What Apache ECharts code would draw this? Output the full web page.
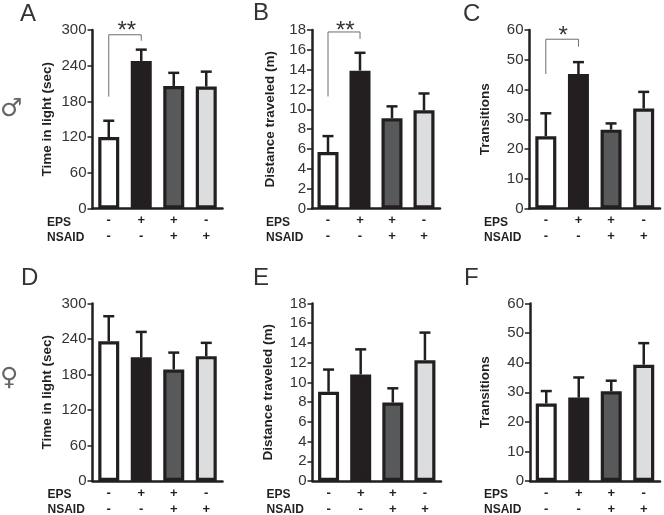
<!DOCTYPE html>
<html><head><meta charset="utf-8">
<style>html,body{margin:0;padding:0;background:#fff}#c{width:664px;height:515px}</style>
<script src="https://cdn.jsdelivr.net/npm/echarts@6/dist/echarts.min.js"></script>
</head><body><div id="c"></div>
<script>
const categories = ['-\n-', '+\n-', '+\n+', '-\n+'];
const barColors = ['#ffffff', '#231f20', '#58595b', '#dcddde'];
const timeMale = [120, 248, 206, 205];
const timeMaleTop = [147.5, 267, 228, 230];
const distMale = [5.7, 13.9, 9.1, 9.9];
const distMaleTop = [7.3, 15.7, 10.3, 11.6];
const transMale = [24.3, 45.2, 26.5, 33.6];
const transMaleTop = [32, 49.2, 28.6, 39.2];
const timeFemale = [236, 209, 188.5, 211];
const timeFemaleTop = [278.5, 252, 217, 233.5];
const distFemale = [9.05, 10.8, 7.95, 12.25];
const distFemaleTop = [11.3, 13.35, 9.4, 15.05];
const transFemale = [26.2, 28.2, 30.3, 39.3];
const transFemaleTop = [30.4, 35, 33.9, 46.6];
const INK = '#231f20', FONT = '"Liberation Sans", Arial, sans-serif';

const panels = [
 {letter:'A',name:'Time in light (sec)',max:300,step:60,v:timeMale,t:timeMaleTop,left:92.5,right:222.5,top:30,bottom:208.5,gap:38,lx:20,ly:14,rx:47,br:[188,292,282],star:'**',sx:25,sy:19},
 {letter:'B',name:'Distance traveled (m)',max:18,step:2,v:distMale,t:distMaleTop,left:312,right:440,top:30,bottom:208.5,gap:35,lx:253,ly:13,rx:266,br:[11.3,17.8,17.1],star:'**',sx:24,sy:19},
 {letter:'C',name:'Transitions',max:60,step:10,v:transMale,t:transMaleTop,left:529.5,right:660,top:30,bottom:208.5,gap:37,lx:463,ly:14,rx:484,br:[45.2,56.9,54.4],star:'*',sx:29,sy:24},
 {letter:'D',name:'Time in light (sec)',max:300,step:60,v:timeFemale,t:timeFemaleTop,left:92.5,right:222.5,top:303.5,bottom:481,gap:38,lx:21,ly:278,rx:47.5},
 {letter:'E',name:'Distance traveled (m)',max:18,step:2,v:distFemale,t:distFemaleTop,left:312.5,right:441,top:303.5,bottom:481,gap:37,lx:253,ly:278,rx:266.5},
 {letter:'F',name:'Transitions',max:60,step:10,v:transFemale,t:transFemaleTop,left:530,right:660,top:303.5,bottom:481,gap:38,lx:464,ly:278,rx:484}
];

const grid=[],xAxis=[],yAxis=[],series=[],graphic=[];
panels.forEach((p,i)=>{
  grid.push({left:p.left,top:p.top,width:p.right-p.left,height:p.bottom-p.top,outerBoundsMode:'none'});
  xAxis.push({type:'category',gridIndex:i,data:categories,
    axisLine:{lineStyle:{color:INK,width:2.5}},axisTick:{show:false},
    axisLabel:{interval:0,color:INK,fontFamily:FONT,fontWeight:'bold',fontSize:13,lineHeight:16,margin:4}});
  yAxis.push({type:'value',gridIndex:i,min:0,max:p.max,interval:p.step,splitLine:{show:false},
    name:p.name,nameLocation:'middle',nameGap:p.gap,
    nameTextStyle:{color:INK,fontFamily:FONT,fontWeight:'bold',fontSize:13.5},
    axisLine:{show:true,lineStyle:{color:INK,width:2.5}},
    axisTick:{show:true,length:5,lineStyle:{color:INK,width:1.5}},
    axisLabel:{color:'#333',fontFamily:FONT,fontSize:15,margin:6}});
  series.push({type:'bar',xAxisIndex:i,yAxisIndex:i,barWidth:21,silent:true,animation:false,
    data:p.v.map((y,k)=>({value:y,itemStyle:{color:barColors[k],borderColor:INK,borderWidth:3.2}}))});
  series.push({type:'custom',xAxisIndex:i,yAxisIndex:i,silent:true,animation:false,z:1,
    data:p.v.map((y,k)=>[k,y,p.t[k]]),
    renderItem(params,api){
      const a=api.coord([api.value(0),api.value(1)]),b=api.coord([api.value(0),api.value(2)]);
      const st={stroke:INK,lineWidth:2.5,fill:null};
      return {type:'group',children:[
        {type:'line',shape:{x1:a[0],y1:a[1],x2:b[0],y2:b[1]},style:st},
        {type:'line',shape:{x1:b[0]-5.5,y1:b[1],x2:b[0]+5.5,y2:b[1]},style:st}]};
    }});
  if(p.br){
    series.push({type:'custom',xAxisIndex:i,yAxisIndex:i,silent:true,animation:false,clip:false,
      data:[[0,p.br[0],p.br[1],p.br[2]]],
      renderItem(params,api){
        const a=api.coord([0,api.value(1)]),t=api.coord([0,api.value(2)]),r=api.coord([1,api.value(3)]),tr=api.coord([1,api.value(2)]);
        return {type:'polyline',shape:{points:[a,t,tr,r]},style:{stroke:'#6d6e71',lineWidth:1,fill:null}};
      }});
    graphic.push({type:'text',left:p.left+p.sx,top:p.sy,style:{text:p.star,fill:'#333',font:'24px '+FONT}});
  }
  graphic.push({type:'text',left:p.lx,top:p.ly-12,style:{text:p.letter,fill:'#333',font:'24px '+FONT}});
  const ey=p.bottom+8;
  graphic.push({type:'text',left:p.rx,top:ey,style:{text:'EPS',fill:INK,font:'bold 12px '+FONT}});
  graphic.push({type:'text',left:p.rx,top:ey+15,style:{text:'NSAID',fill:INK,font:'bold 12px '+FONT}});
});
graphic.push({type:'text',left:0,top:97,style:{text:'\u2642',fill:'#666',font:'25px "DejaVu Sans"'}});
graphic.push({type:'text',left:0,top:366,style:{text:'\u2640',fill:'#666',font:'25px "DejaVu Sans"'}});

const chart=echarts.init(document.getElementById('c'),null,{renderer:'canvas'});
chart.setOption({animation:false,backgroundColor:'#fff',grid,xAxis,yAxis,series,graphic});
</script></body></html>
